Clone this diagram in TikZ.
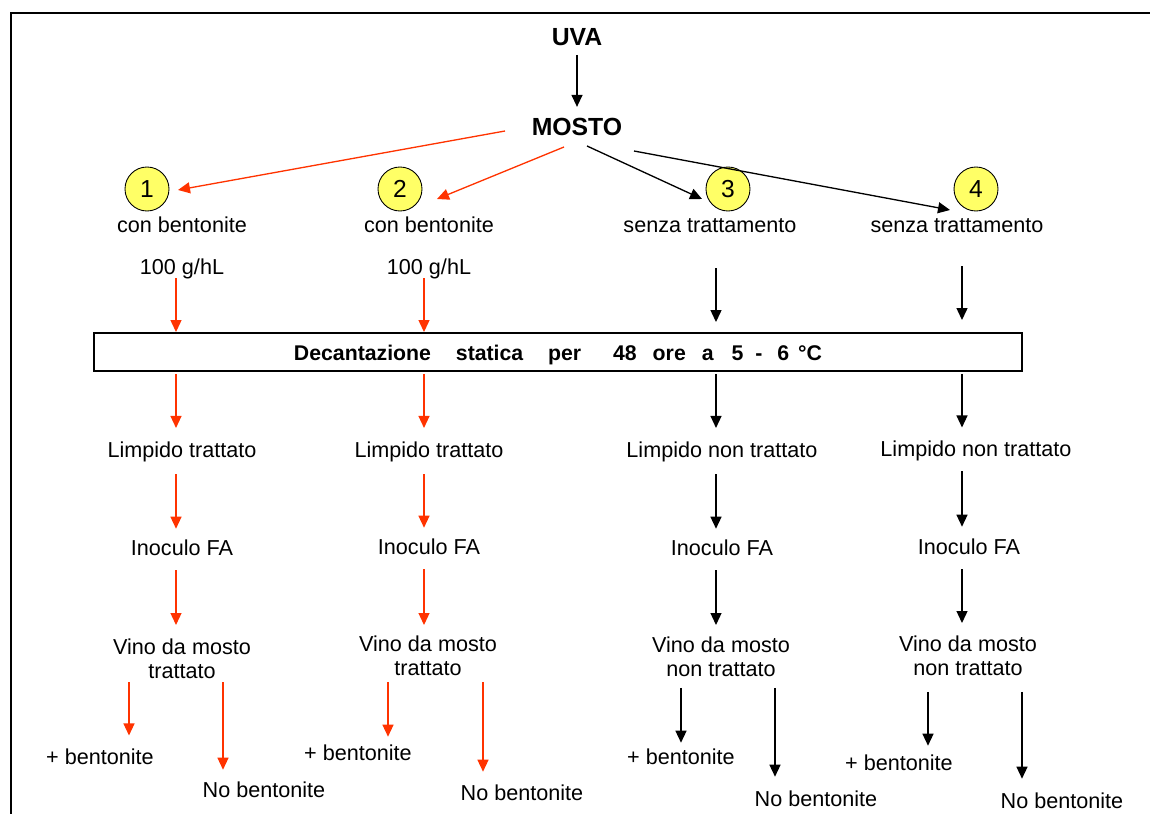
\documentclass[tikz,border=0pt]{standalone}
\usepackage{fontspec}
\setmainfont{Liberation Sans}
\usetikzlibrary{arrows.meta}
\usetikzlibrary{positioning}

\definecolor{flowred}{RGB}{255,51,0}
\definecolor{numyellow}{RGB}{255,255,102}

\tikzset{
	txt/.style={font=\fontsize{12.3}{14}\selectfont, inner sep=0pt, text height=10.7pt, text depth=0.9pt},
	twoline/.style={font=\fontsize{12.3}{14}\selectfont, inner sep=0pt, align=center, anchor=north},
	title/.style={font=\fontsize{14.1}{16}\selectfont\bfseries, inner sep=0pt},
	num/.style={circle, draw=black, line width=0.5pt, fill=numyellow, minimum size=8.8mm, inner sep=0pt, font=\fontsize{14}{16}\selectfont},
	decbox/.style={draw=black, line width=1.1pt, minimum width=185.6mm, minimum height=7.6mm, inner sep=0pt, text height=11pt, text depth=1.1pt, font=\fontsize{12.1}{14}\selectfont\bfseries},
	redarr/.style={draw=flowred, line width=0.75pt, -{Triangle[length=2.4mm,width=2.2mm]}},
	blkarr/.style={draw=black, line width=0.75pt, -{Triangle[length=2.4mm,width=2.2mm]}}
}

\begin{document}
\begin{tikzpicture}[x=0.2mm,y=-0.2mm]

	\useasboundingbox (0,0) rectangle (1150,814);

	% frame
	\draw[line width=0.8pt] (11,814) -- (11,13) -- (1150,13);

	% top
	\node[title] (uva) at (577,37) {UVA};
	\node[title] (mosto) at (577,127) {MOSTO};
	\draw[blkarr, shorten <=1.8mm, shorten >=2.2mm] (uva) -- (mosto);

	\node[num] (n1) at (147,189) {1};
	\node[num] (n2) at (400,189) {2};
	\node[num] (n3) at (728,189) {3};
	\node[num] (n4) at (976,189) {4};

	\node[txt] (tr1) at (182,224) {con bentonite};
	\node[txt] (tr2) at (429,224) {con bentonite};
	\node[txt] (tr3) at (710,224) {senza trattamento};
	\node[txt] (tr4) at (957,224) {senza trattamento};

	\node[txt] (dose1) at (182,266) {100 g/hL};
	\node[txt] (dose2) at (429,266) {100 g/hL};

	% arrows from the must
	\coordinate (m1) at (505,131);
	\coordinate (m2) at (564,147);
	\coordinate (m3) at (587,146);
	\coordinate (m4) at (634,151);
	\coordinate (t1) at (178,190);
	\coordinate (t2) at (437,199);
	\coordinate (t3) at (702,199);
	\coordinate (t4) at (950,210);

	\draw[redarr] (m1) -- (t1);
	\draw[redarr] (m2) -- (t2);
	\draw[blkarr] (m3) -- (t3);
	\draw[blkarr] (m4) -- (t4);

	% columns
	\coordinate (c1) at (176,0);
	\coordinate (c2) at (424,0);
	\coordinate (c3) at (716,0);
	\coordinate (c4) at (962,0);

	\node[decbox] (dec) at (558,352) {Decantazione\hspace{1.17em}statica\hspace{1.17em}per\hspace{1.5em}48\hspace{0.75em}ore\hspace{0.75em}a\hspace{0.85em}5\hspace{0.56em}-\hspace{0.7em}6\hspace{0.42em}°C};

	\draw[redarr, shorten <=0.35mm] (dose1.south -| c1) -- (dec.north -| c1);
	\draw[redarr, shorten <=0.35mm] (dose2.south -| c2) -- (dec.north -| c2);
	\draw[blkarr, shorten <=6.75mm, shorten >=2mm] (tr3.south -| c3) -- (dec.north -| c3);
	\draw[blkarr, shorten <=6.35mm, shorten >=2.4mm] (tr4.south -| c4) -- (dec.north -| c4);

	\node[txt] (limp1) at (182,449) {Limpido trattato};
	\node[txt] (limp2) at (429,449) {Limpido trattato};
	\node[txt] (limp3) at (722,449) {Limpido non trattato};
	\node[txt] (limp4) at (976,448) {Limpido non trattato};

	\draw[redarr, shorten <=0.4mm, shorten >=2.1mm] (dec.south -| c1) -- (limp1.north -| c1);
	\draw[redarr, shorten <=0.4mm, shorten >=2.1mm] (dec.south -| c2) -- (limp2.north -| c2);
	\draw[blkarr, shorten <=0.4mm, shorten >=2.1mm] (dec.south -| c3) -- (limp3.north -| c3);
	\draw[blkarr, shorten <=0.4mm, shorten >=2mm] (dec.south -| c4) -- (limp4.north -| c4);

	\node[txt] (inoc1) at (182,547) {Inoculo FA};
	\node[txt] (inoc2) at (429,546) {Inoculo FA};
	\node[txt] (inoc3) at (722,547) {Inoculo FA};
	\node[txt] (inoc4) at (969,546) {Inoculo FA};

	\draw[redarr, shorten <=2.95mm, shorten >=1.55mm] (limp1.south -| c1) -- (inoc1.north -| c1);
	\draw[redarr, shorten <=2.95mm, shorten >=1.55mm] (limp2.south -| c2) -- (inoc2.north -| c2);
	\draw[blkarr, shorten <=2.95mm, shorten >=1.55mm] (limp3.south -| c3) -- (inoc3.north -| c3);
	\draw[blkarr, shorten <=2.55mm, shorten >=1.75mm] (limp4.south -| c4) -- (inoc4.north -| c4);

	\node[twoline] (vino1) at (182,638) {Vino da mosto\\trattato};
	\node[twoline] (vino2) at (428,635) {Vino da mosto\\trattato};
	\node[twoline] (vino3) at (721,636) {Vino da mosto\\non trattato};
	\node[twoline] (vino4) at (968,635) {Vino da mosto\\non trattato};

	\draw[redarr, shorten <=2.55mm, shorten >=2.6mm] (inoc1.south -| c1) -- (vino1.north -| c1);
	\draw[redarr, shorten <=2.55mm, shorten >=2mm] (inoc2.south -| c2) -- (vino2.north -| c2);
	\draw[blkarr, shorten <=2.55mm, shorten >=2.2mm] (inoc3.south -| c3) -- (vino3.north -| c3);
	\draw[blkarr, shorten <=2.55mm, shorten >=2.4mm] (inoc4.south -| c4) -- (vino4.north -| c4);

	% bottom
	\coordinate (b1) at (129,0);
	\coordinate (b1n) at (223,0);
	\coordinate (b2) at (388,0);
	\coordinate (b2n) at (483,0);
	\coordinate (b3) at (681,0);
	\coordinate (b3n) at (775,0);
	\coordinate (b4) at (928,0);
	\coordinate (b4n) at (1022,0);

	\node[txt] (piu1) at (100,756) {+ bentonite};
	\node[txt] (piu2) at (358,752) {+ bentonite};
	\node[txt] (piu3) at (681,756) {+ bentonite};
	\node[txt] (piu4) at (899,762) {+ bentonite};

	\node[txt] (nob1) at (264,789) {No bentonite};
	\node[txt] (nob2) at (522,792) {No bentonite};
	\node[txt] (nob3) at (816,798) {No bentonite};
	\node[txt] (nob4) at (1062,800) {No bentonite};

	\draw[redarr, shorten <=0.6mm, shorten >=2mm] (vino1.south -| b1) -- (piu1.north -| b1);
	\draw[redarr, shorten <=0.6mm, shorten >=1.75mm] (vino1.south -| b1n) -- (nob1.north -| b1n);
	\draw[redarr, shorten <=1.15mm, shorten >=0.95mm] (vino2.south -| b2) -- (piu2.north -| b2);
	\draw[redarr, shorten <=1.15mm, shorten >=1.95mm] (vino2.south -| b2n) -- (nob2.north -| b2n);
	\draw[blkarr, shorten <=2.15mm, shorten >=0.55mm] (vino3.south -| b3) -- (piu3.north -| b3);
	\draw[blkarr, shorten <=2.15mm, shorten >=2.15mm] (vino3.south -| b3n) -- (nob3.north -| b3n);
	\draw[blkarr, shorten <=3.15mm, shorten >=1.15mm] (vino4.south -| b4) -- (piu4.north -| b4);
	\draw[blkarr, shorten <=3.15mm, shorten >=2.15mm] (vino4.south -| b4n) -- (nob4.north -| b4n);

\end{tikzpicture}
\end{document}
